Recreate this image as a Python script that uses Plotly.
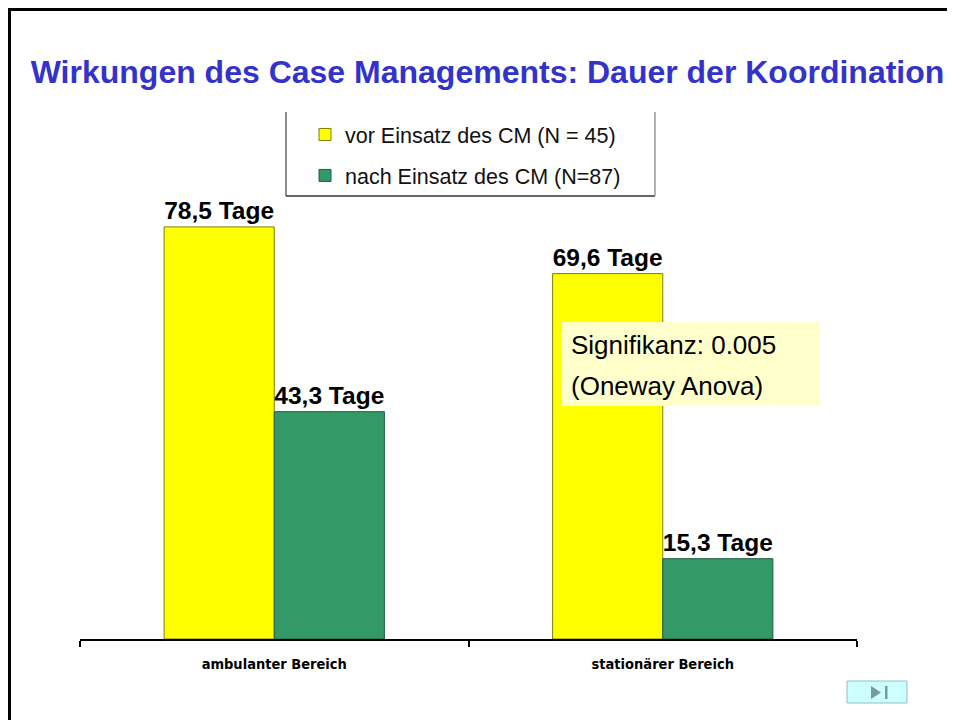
import plotly.graph_objects as go

categories = ["ambulanter Bereich", "stationärer Bereich"]
series_names = ["vor Einsatz des CM (N = 45)", "nach Einsatz des CM (N=87)"]
vor_values = [78.5, 69.6]
nach_values = [43.3, 15.3]
vor_labels = ["78,5 Tage", "69,6 Tage"]
nach_labels = ["43,3 Tage", "15,3 Tage"]

W, H = 955, 720
OFF = 8  # page offset of the figure
L, R, T, B = 72, 106, 92, 89
PW = W - L - R
PH = H - T - B


def px(x):  # screen x -> paper
    return (x - OFF - L) / PW


def py(y):  # screen y -> paper
    return (H - B - (y - OFF)) / PH


FONT = "Arial, Liberation Sans, sans-serif"

fig = go.Figure()
fig.add_trace(go.Bar(
    x=categories, y=vor_values, name=series_names[0], legendgroup="a",
    marker=dict(color="#FFFF00", line=dict(color="#7F7F00", width=1)),
    text=vor_labels, textposition="outside", cliponaxis=False,
    textfont=dict(family=FONT, size=25, color="black"),
    texttemplate="<b>%{text}</b>",
))
fig.add_trace(go.Bar(
    x=categories, y=nach_values, name=series_names[1], legendgroup="b",
    marker=dict(color="#339966", line=dict(color="#1E5C3D", width=1)),
    text=nach_labels, textposition="outside", cliponaxis=False,
    textfont=dict(family=FONT, size=25, color="black"),
    texttemplate="<b>%{text}</b>",
))

fig.update_layout(
    width=W, height=H,
    margin=dict(l=L, r=R, t=T, b=B),
    paper_bgcolor="white", plot_bgcolor="white",
    barmode="group", bargap=0.433, bargroupgap=0,
    font=dict(family=FONT, color="black"),
    showlegend=True,
    legend=dict(
        x=px(305), y=py(114), xanchor="left", yanchor="top",
        bgcolor="rgba(0,0,0,0)", borderwidth=0,
        font=dict(size=21.5, color="#111111"), tracegroupgap=10,
        itemwidth=30,
    ),
    title=dict(
        text="<b>Wirkungen des Case Managements: Dauer der Koordination</b>",
        x=(487.5 - OFF) / W, y=1 - (72 - OFF) / H, xanchor="center", yanchor="middle",
        xref="container", yref="container",
        font=dict(family=FONT, size=32, color="#3333CC"),
    ),
    xaxis=dict(
        range=[-0.5, 1.5], showline=True, linecolor="black", linewidth=1.5,
        ticks="outside", tickson="boundaries", ticklen=6, tickcolor="black",
        tickwidth=1.5, showgrid=False, ticklabelstandoff=11,
        tickfont=dict(family="DejaVu Sans Condensed, Liberation Sans Narrow, Arial Narrow, Arial",
                      size=14.5, color="black"),
        tickvals=categories, ticktext=["<b>" + c + "</b>" for c in categories],
    ),
    yaxis=dict(range=[0, PH / 5.25], visible=False, showgrid=False),
)

# legend frame (left, bottom, right sides)
for (x0, y0, x1, y1, col) in [(286, 112, 286, 196, "#666666"),
                              (286, 196, 655, 196, "#333333"),
                              (655, 112, 655, 196, "#999999")]:
    fig.add_shape(type="line", xref="paper", yref="paper",
                  x0=px(x0), y0=py(y0), x1=px(x1), y1=py(y1),
                  line=dict(color=col, width=1.5))

# significance note box
fig.add_shape(type="rect", xref="paper", yref="paper",
              x0=px(562), x1=px(820), y0=py(406), y1=py(322),
              fillcolor="#FFFFCC", line=dict(width=0), layer="above")
fig.add_annotation(xref="paper", yref="paper", x=px(569), y=py(345),
                   xanchor="left", yanchor="middle", showarrow=False,
                   text="Signifikanz: 0.005",
                   font=dict(size=26, color="black"))
fig.add_annotation(xref="paper", yref="paper", x=px(569), y=py(386),
                   xanchor="left", yanchor="middle", showarrow=False,
                   text="(Oneway Anova)",
                   font=dict(size=26, color="black"))

# slide frame
fig.add_shape(type="rect", xref="paper", yref="paper",
              x0=px(9.5), x1=px(990), y0=py(760), y1=py(9.5),
              line=dict(color="black", width=3), fillcolor="rgba(0,0,0,0)")

# navigation button
fig.add_shape(type="rect", xref="paper", yref="paper",
              x0=px(847), x1=px(907), y0=py(703), y1=py(681),
              fillcolor="#CCFFFF", line=dict(color="#99BBBB", width=1))
fig.add_shape(type="path", xref="paper", yref="paper",
              path=f"M {px(871)} {py(686)} L {px(881)} {py(692.5)} L {px(871)} {py(699)} Z",
              fillcolor="#7A9A9A", line=dict(width=0))
fig.add_shape(type="rect", xref="paper", yref="paper",
              x0=px(885), x1=px(887.5), y0=py(699), y1=py(686),
              fillcolor="#7A9A9A", line=dict(width=0))

fig.write_html("out.html")
